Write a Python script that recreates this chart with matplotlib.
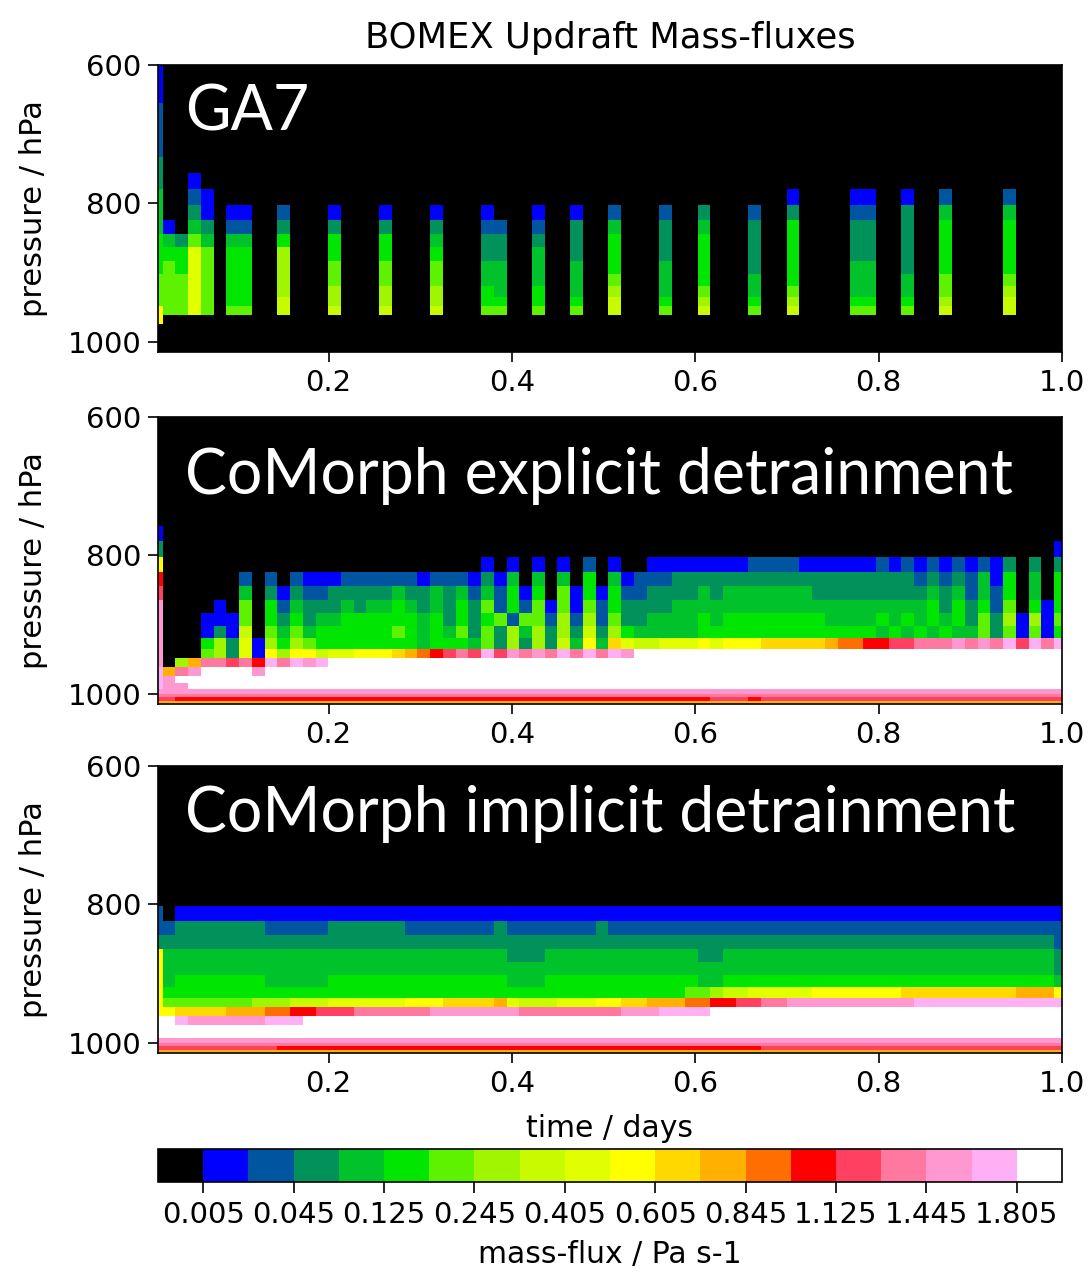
import numpy as np
import matplotlib.pyplot as plt
from matplotlib.colors import ListedColormap, BoundaryNorm

# contour levels of the mass-flux (Pa s-1) and the colour of each band
levels = [0, 0.005, 0.02, 0.045, 0.08, 0.125, 0.18, 0.245, 0.32, 0.405, 0.5,
          0.605, 0.72, 0.845, 0.98, 1.125, 1.28, 1.445, 1.62, 1.805, 2.0]
band_colors = ['#000000', '#0000ff', '#0055a0', '#00925a', '#00c22a', '#00e600',
               '#5ff200', '#a0f500', '#c8fa00', '#e2ff00', '#ffff00', '#ffd800',
               '#ffb000', '#ff6e00', '#ff0000', '#ff4060', '#ff78a0', '#ff98d0',
               '#ffb0f5', '#ffffff']

# value read for each band code ('.' = no updraft)
code_chars = '.123456789abcdefghij'
class_value = [0.0, 0.012, 0.032, 0.062, 0.10, 0.15, 0.21, 0.28, 0.36, 0.45, 0.55,
               0.66, 0.78, 0.91, 1.05, 1.20, 1.36, 1.53, 1.71, 1.90]

# model grid: pressure level edges (hPa, surface first) and 20-min output times (days)
p_edges = [1015, 1010, 1005, 1000, 993, 985, 974, 962, 949, 935, 919, 902, 883,
           864, 845, 824, 802, 780, 757, 733, 708, 682, 655, 627, 600]
dt = 1 / 72
time_edges = np.r_[dt, np.arange(1, 73) * dt + 0.0052]
ntime = 72
nlev = len(p_edges) - 1

# GA7: convecting time steps, profile from the surface level upwards
ga7_steps = [0, 1, 2, 3, 4, 6, 7, 10, 14, 18, 22, 26, 27, 30, 33, 36, 40, 43,
             47, 50, 55, 56, 59, 62, 67]
ga7_profiles = [
    '......aa6665554443322211',
    '.......66666541',
    '.......6666553',
    '.......99999964321',
    '.......6666664311',
    '.......655555421',
    '.......655555421',
    '.......887777532',
    '.......877665531',
    '.......877665531',
    '.......877665431',
    '.......655443321',
    '.......65444332',
    '.......655444321',
    '.......654443331',
    '.......887655542',
    '.......654443332',
    '.......876555543',
    '.......654433332',
    '.......8765555531',
    '.......6544433321',
    '.......6544433321',
    '.......6544333331',
    '.......8766555542',
    '.......8876555542',
]

# CoMorph explicit detrainment, rows from 757-780 hPa down to the surface
explicit_rows = [
    '1.....' + '......' * 11,
    '3.....' + '......' * 10 + '.....1',
    'a..... ...... ...... ...... ..1.1. 1.1.2. 1..111 111112 222111 111212 121212 13.3.3',
    'e..... .2.2.2 111222 222122 21314. 4.4.5. 412223 333333 333333 333333 232324 15.4.5',
    'f..... .4.313 223333 343343 424251 5.6151 522333 343444 444433 333333 343424 25.4.5',
    'h....1 .6.524 333434 454343 536252 616162 533334 444444 444444 444444 453535 26.515',
    'h...11 16.535 344555 555453 535626 627272 633444 454555 555554 444545 454536 371716',
    'h...13 18.646 455555 565454 636374 737383 754444 455555 555555 555454 545446 361615',
    'h...57 391757 655555 555455 546373 7384a4 b98899 9a9aaa bbbbbc ddeeff ggghgh gifigi',
    'h...67 391a7a a899aa abcdef gfifhg hgigig ihjjjj' + 'jjjjjj' * 5,
    'h.7cgg fgeigi hijjjj' + 'jjjjjj' * 9,
    'icghjj jjhjjj' + 'jjjjjj' * 10,
    'ihjjjj' + 'jjjjjj' * 11,
    'ihhjjj' + 'jjjjjj' * 11,
    'hhhhhh' * 12,
    'gggggg' * 12,
    'ffeeee' + 'eeeeee' * 6 + 'eefffe' + 'ffffff' * 4,
    'cccccc' * 12,
]

# CoMorph implicit detrainment, rows from 802-824 hPa down to the surface
implicit_rows = [
    '2.1111' + '111111' * 11,
    '223333 333222 223333 332222 222322 222223' + '222222' * 6,
    '333333' * 11 + '333332',
    'a44444 444444 444444 444444 444433 344444 444444 433444 444444 444444 444444 444443',
    'a44444' + '444444' * 10 + '444443',
    'a45555 555444 445555 555555 555544 455555 555555 544555 555555 555555 555555 555554',
    'a55555' + '555555' * 6 + '667889 9999aa aaaaab bbbbbb bbccca',
    'a66666 667778 889999 99aaab bbbc98 88999a abbccc ddeeff gghhhh hhhhhh iiiiii iiiiii',
    'aabbbb cccdde efffgg gggghh hhhhhg gggggg ghhhii iijjjj' + 'jjjjjj' * 4,
    'jjihhh hhhiii' + 'jjjjjj' * 10,
    'jjjjjj' * 12,
    'jjjjjj' * 12,
    'hhhhhh' * 12,
    'gggggg' * 12,
    'ffffff ffffee' + 'eeeeee' * 6 + 'ffffff' * 4,
    'cccccc' * 12,
]


def from_rows(rows):
    field = np.zeros((nlev, ntime))
    for i, row in enumerate(rows[::-1]):
        row = row.replace(' ', '')
        for j, c in enumerate(row[:ntime]):
            field[i, j] = class_value[code_chars.index(c)]
    return field


def from_profiles(steps, profiles):
    field = np.zeros((nlev, ntime))
    for j, prof in zip(steps, profiles):
        for i, c in enumerate(prof):
            field[i, j] = class_value[code_chars.index(c)]
    return field


fields = [from_profiles(ga7_steps, ga7_profiles),
          from_rows(explicit_rows),
          from_rows(implicit_rows)]
names = ['GA7', 'CoMorph explicit detrainment', 'CoMorph implicit detrainment']
name_y = [0.772, 0.730, 0.770]

cmap = ListedColormap(band_colors)
norm = BoundaryNorm(levels, cmap.N)

fig = plt.figure(figsize=(10.88, 12.85), dpi=100)
ax_bottoms = [0.7261, 0.4521, 0.1805]

for k in range(3):
    ax = fig.add_axes([0.1452, ax_bottoms[k], 0.8309, 0.2235])
    mesh = ax.pcolormesh(time_edges, p_edges, fields[k], cmap=cmap, norm=norm)
    ax.set_xlim(dt, 1.0)
    ax.set_ylim(1015, 600)
    ax.set_yticks([600, 800, 1000])
    ax.set_xticks([0.2, 0.4, 0.6, 0.8, 1.0])
    ax.set_ylabel('pressure / hPa', fontsize=22, labelpad=14)
    ax.tick_params(labelsize=21, length=7, width=1.2, pad=5)
    for s in ax.spines.values():
        s.set_linewidth(1.2)
    ax.text(0.03, name_y[k], names[k], transform=ax.transAxes, color='white',
            fontsize=45, family='Lato', va='baseline')
    if k == 0:
        ax.set_title('BOMEX Updraft Mass-fluxes', fontsize=25.5, pad=12)
    if k == 2:
        ax.set_xlabel('time / days', fontsize=21.5, labelpad=12)

cax = fig.add_axes([0.1452, 0.0802, 0.8309, 0.0257])
cb = fig.colorbar(mesh, cax=cax, orientation='horizontal', ticks=levels[1:-1:2])
cb.minorticks_off()
cb.ax.set_xticklabels(['%.3f' % v for v in levels[1:-1:2]])
cb.ax.tick_params(labelsize=21, length=8, width=1.2, pad=6)
cb.outline.set_linewidth(1.2)
cb.set_label('mass-flux / Pa s-1', fontsize=21.5, labelpad=8)

fig.savefig('out.png', dpi=100)
